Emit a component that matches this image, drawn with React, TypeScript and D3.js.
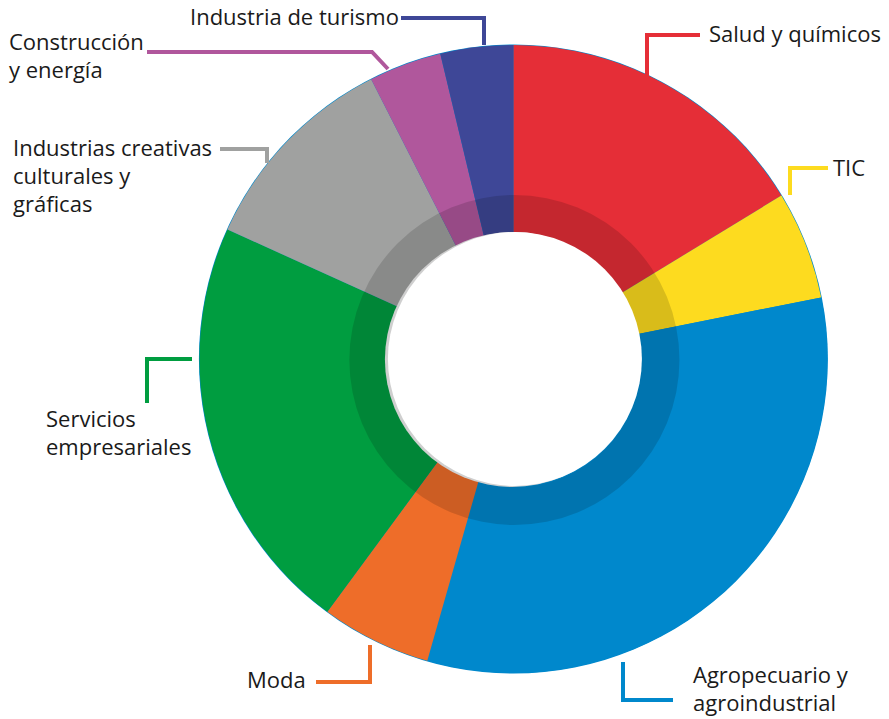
import React from "react";
import * as d3 from "d3";

// sector shares (%) read clockwise from 12 o'clock
const sectors = [
    "Salud y químicos",
    "TIC",
    "Agropecuario y agroindustrial",
    "Moda",
    "Servicios empresariales",
    "Industrias creativas culturales y gráficas",
    "Construcción y energía",
    "Industria de turismo",
];
const shares = [16.27, 5.57, 32.54, 5.67, 21.65, 10.74, 3.74, 3.74];
const colors = ["#E52E37", "#FDDB1F", "#0088CC", "#EE6D29", "#009D40", "#A0A1A0", "#B0579C", "#3E4797"];

// label text split into lines
const labelLines = [
    ["Salud y químicos"],
    ["TIC"],
    ["Agropecuario y", "agroindustrial"],
    ["Moda"],
    ["Servicios", "empresariales"],
    ["Industrias creativas", "culturales y", "gráficas"],
    ["Construcción", "y energía"],
    ["Industria de turismo"],
];

// layout of labels and leader lines
const labelLayout = [
    {x: 709, y: 42, leader: [[700, 35], [647, 35], [647, 76]]},
    {x: 833, y: 176, leader: [[828, 168], [790, 168], [790, 195]]},
    {x: 693, y: 683, leader: [[623, 662], [623, 700], [673, 700]]},
    {x: 247, y: 688, leader: [[316, 682], [370, 682], [370, 645]]},
    {x: 46, y: 427, leader: [[192, 359], [147, 359], [147, 403]]},
    {x: 13, y: 156, leader: [[220, 149], [267, 149], [267, 163]]},
    {x: 9, y: 50, leader: [[147, 52], [372, 52], [388, 69]]},
    {x: 190, y: 25, leader: [[401, 18], [484, 18], [484, 45]]},
];

const width = 889;
const height = 719;
const cx = 513.4;
const cy = 359;
const outerR = 314.5;
const bandR = 165;
const holeR = 127;
const lineHeight = 28;

export default function App() {
    const pie = d3.pie<number>().sort(null).value(d => d).startAngle(0).endAngle(2 * Math.PI);
    const arcs = pie(shares);
    const outerArc = d3.arc<d3.PieArcDatum<number>>().innerRadius(0).outerRadius(outerR - 0.6);
    const bandArc = d3.arc().innerRadius(holeR).outerRadius(bandR).startAngle(0).endAngle(2 * Math.PI);
    const leaderLine = d3.line();

    return (
        <svg
            width={width}
            height={height}
            style={{position: "absolute", left: 0, top: 0, background: "white"}}
            fontFamily="'Open Sans', sans-serif"
        >
            <g transform={`translate(${cx},${cy})`}>
                <circle r={outerR} fill="#0088CC"/>
                {arcs.map((a, i) => (
                    <path key={sectors[i]} d={outerArc(a) || ""} fill={colors[i]}/>
                ))}
            </g>
            <path
                transform={`translate(${cx + 1},${cy + 1})`}
                d={(bandArc as any)() || ""}
                fill="black"
                fillOpacity={0.14}
            />
            <circle cx={cx - 1} cy={cy + 0.5} r={holeR + 0.5} fill="#cfcfcf"/>
            <circle cx={cx + 1.5} cy={cy} r={holeR} fill="white"/>

            {labelLayout.map((l, i) => (
                <g key={sectors[i]}>
                    <path
                        d={leaderLine(l.leader as [number, number][]) || ""}
                        fill="none"
                        stroke={colors[i]}
                        strokeWidth={4}
                    />
                    <text x={l.x} y={l.y} fontSize={22} fill="#1a1a1a">
                        {labelLines[i].map((t, j) => (
                            <tspan key={j} x={l.x} dy={j === 0 ? 0 : lineHeight}>{t}</tspan>
                        ))}
                    </text>
                </g>
            ))}
        </svg>
    );
}
